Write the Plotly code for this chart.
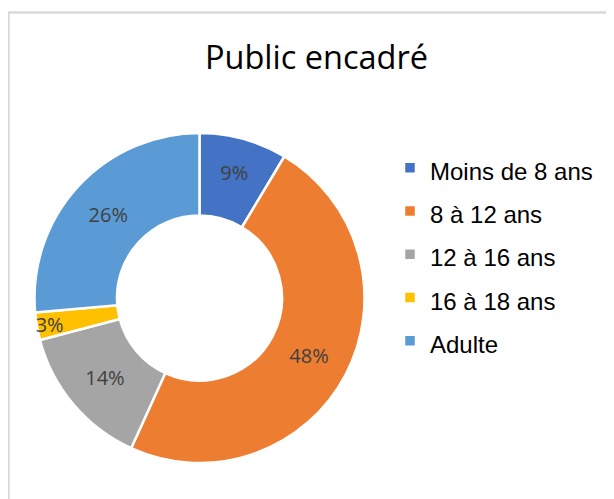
import plotly.graph_objects as go

categories = ["Moins de 8 ans", "8 à 12 ans", "12 à 16 ans", "16 à 18 ans", "Adulte"]
values = [8.6, 48.2, 14.1, 2.7, 26.4]
colors = ["#4472C4", "#ED7D31", "#A5A5A5", "#FFC000", "#5B9BD5"]

# page body has an 8px margin: work in window pixels shifted by OFF
OFF = 8
W, H = 614 - OFF, 499 - OFF


def px(x):
    return (x - OFF) / W


def py(y):
    return 1 - (y - OFF) / H


legend_labels = ["<span style='font-size:24px'>%s</span>" % c for c in categories]

fig = go.Figure(go.Pie(
    labels=legend_labels,
    values=values,
    hole=0.5,
    sort=False,
    direction="clockwise",
    rotation=0,
    marker=dict(colors=colors, line=dict(color="white", width=2.5)),
    texttemplate="%{percent:.0%}",
    textposition="inside",
    insidetextorientation="horizontal",
    textfont=dict(family="Open Sans", size=20, color="#404040"),
    domain=dict(x=[px(34.5), px(364.5)], y=[py(463), py(133)]),
    hoverinfo="label+percent",
))

fig.update_layout(
    width=W, height=H,
    margin=dict(l=0, r=0, t=0, b=0),
    paper_bgcolor="white",
    plot_bgcolor="white",
    showlegend=True,
    uniformtext=dict(minsize=20, mode="show"),
    legend=dict(
        x=px(390), y=py(141), xanchor="left", yanchor="top",
        font=dict(family="Liberation Sans", size=31, color="#000000"),
        bgcolor="rgba(0,0,0,0)",
    ),
    annotations=[dict(
        text="Public encadré", x=px(316), y=py(56), xref="paper", yref="paper",
        xanchor="center", yanchor="middle", showarrow=False,
        font=dict(family="Open Sans", size=32.5, color="#000000"),
    )],
    shapes=[dict(
        type="rect", xref="paper", yref="paper",
        x0=px(8.5), x1=1.05, y0=-0.05, y1=py(12.5),
        line=dict(color="#D9D9D9", width=2.5), fillcolor="rgba(0,0,0,0)", layer="below",
    )],
)

fig.write_html("out.html")
